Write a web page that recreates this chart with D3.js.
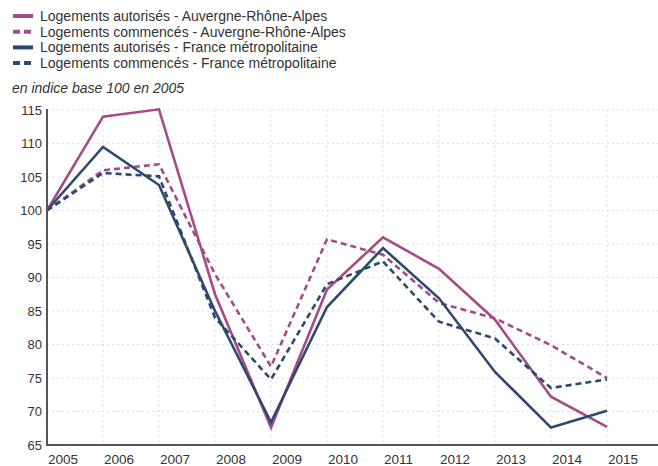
<!doctype html>
<html>
<head>
<meta charset="utf-8">
<style>
  body { margin: 0; background: #fff; font-family: 'Liberation Sans', Arial, sans-serif; }
  svg { display: block; }
  text { fill: #333; font-size: 13px; }
  text.legend, text.subtitle { font-size: 14px; }
  text.xlab { font-size: 13.5px; }
  .grid line { stroke: #d9dee6; stroke-width: 1; stroke-dasharray: 2 3; }
  .axis-line { stroke: #555; stroke-width: 2; }
  .serie { fill: none; stroke-width: 2.6; stroke-linejoin: miter; }
</style>
<script src="https://d3js.org/d3.v7.min.js"></script>
</head>
<body>
<svg width="658" height="466"></svg>
<script>
// data (index base 100 in 2005)
const years = [2005, 2006, 2007, 2008, 2009, 2010, 2011, 2012, 2013, 2014, 2015]
const autorisesARA = [100, 114.0, 115.1, 87.5, 67.6, 88.2, 96.0, 91.3, 83.7, 72.2, 67.7]
const commencesARA = [100, 106.0, 106.9, 90.5, 76.7, 95.7, 93.4, 86.2, 83.9, 79.9, 75.0]
const autorisesFR = [100, 109.5, 103.8, 85.0, 68.4, 85.6, 94.4, 86.9, 75.9, 67.6, 70.1]
const commencesFR = [100, 105.6, 105.1, 84.0, 74.8, 89.0, 92.4, 83.4, 80.9, 73.5, 74.8]
const yTicks = [65, 70, 75, 80, 85, 90, 95, 100, 105, 110, 115]

const pink = '#a64a8a'
const navy = '#2d4a6e'

const series = [
  { name: 'Logements autorisés - Auvergne-Rhône-Alpes', values: autorisesARA, color: pink, dash: null },
  { name: 'Logements commencés - Auvergne-Rhône-Alpes', values: commencesARA, color: pink, dash: '6 4' },
  { name: 'Logements autorisés - France métropolitaine', values: autorisesFR, color: navy, dash: null },
  { name: 'Logements commencés - France métropolitaine', values: commencesFR, color: navy, dash: '6 4' }
]

const svg = d3.select('svg')

const plotLeft = 47, plotRight = 658, plotTop = 110, plotBottom = 445

const x = d3.scaleLinear().domain([2005, 2015]).range([plotLeft, 607])
const y = d3.scaleLinear().domain([65, 115]).range([plotBottom, plotTop])

// grid
const grid = svg.append('g').attr('class', 'grid')
grid.selectAll('.h').data(yTicks).enter().append('line')
  .attr('x1', plotLeft).attr('x2', plotRight)
  .attr('y1', d => y(d)).attr('y2', d => y(d))
grid.selectAll('.v').data(years).enter().append('line')
  .attr('x1', d => x(d)).attr('x2', d => x(d))
  .attr('y1', plotTop).attr('y2', plotBottom)

// y labels
svg.append('g').selectAll('text').data(yTicks).enter().append('text')
  .attr('x', 42).attr('y', d => y(d))
  .attr('dy', '0.35em')
  .attr('text-anchor', 'end')
  .text(d => d)

// x labels (start anchored at tick)
svg.append('g').selectAll('text').data(years).enter().append('text')
  .attr('class', 'xlab')
  .attr('x', d => x(d) + 1).attr('y', 464)
  .text(d => d)

// lines
const line = d3.line().x((d, i) => x(years[i])).y(d => y(d))

svg.append('g').selectAll('path').data(series).enter().append('path')
  .attr('class', 'serie')
  .attr('d', d => line(d.values))
  .attr('stroke', d => d.color)
  .attr('stroke-dasharray', d => d.dash)

// axes lines
svg.append('line').attr('class', 'axis-line')
  .attr('x1', plotLeft).attr('x2', plotRight).attr('y1', plotBottom).attr('y2', plotBottom)
svg.append('line').attr('class', 'axis-line')
  .attr('x1', plotLeft).attr('x2', plotLeft).attr('y1', plotTop - 1).attr('y2', plotBottom + 1)

// legend
const legend = svg.append('g').selectAll('g').data(series).enter().append('g')
  .attr('transform', (d, i) => `translate(13, ${16 + i * 15.7})`)
legend.append('line')
  .attr('x1', 0).attr('x2', 20).attr('y1', 0).attr('y2', 0)
  .attr('stroke', d => d.color)
  .attr('stroke-width', 4)
  .attr('stroke-dasharray', d => d.dash ? '7 4' : null)
legend.append('text')
  .attr('class', 'legend')
  .attr('x', 27).attr('dy', '0.35em')
  .text(d => d.name)

svg.append('text')
  .attr('class', 'subtitle')
  .attr('x', 12).attr('y', 93)
  .attr('font-style', 'italic')
  .text('en indice base 100 en 2005')
</script>
</body>
</html>
